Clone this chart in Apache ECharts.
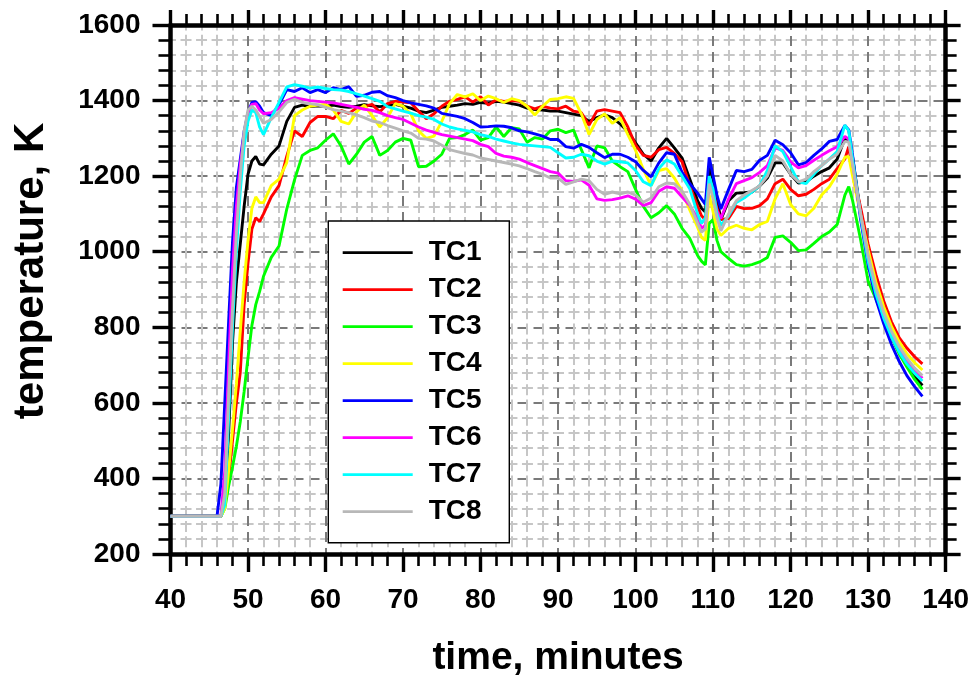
<!DOCTYPE html>
<html>
<head>
<meta charset="utf-8">
<script src="https://cdn.jsdelivr.net/npm/echarts@6/dist/echarts.min.js"></script>
<style>
html,body{margin:0;padding:0;background:#fff;}
#chart{width:972px;height:683px;}
</style>
</head>
<body>
<div id="chart"></div>
<script>
// time, minutes
const times = [40, 46, 46.5, 47, 47.5, 48, 48.5, 49, 49.5, 50, 50.5, 51, 51.5,
  52, 53, 54, 55, 56, 57, 58, 59, 60, 61,
  62, 63, 64, 65, 66, 67, 68, 69, 70, 71,
  72, 73, 74, 75, 76, 77, 78, 79, 80, 81,
  82, 83, 84, 85, 86, 87, 88, 89, 90, 91,
  92, 93, 94, 95, 96, 97, 98, 99, 100, 101,
  102, 103, 104, 105, 106, 107, 108,
  108.5, 109, 109.5, 110, 110.5, 111,
  112, 113, 114, 115, 116, 117, 118, 119, 120, 121,
  122, 123, 124, 125, 126, 127,
  127.5,
  128, 129, 130, 131, 132, 133, 134, 135, 136, 137];

const TC1 = [300, 300, 300, 340, 520, 760, 920, 1020, 1120, 1205, 1240, 1252, 1232,
  1230, 1258, 1280, 1345, 1382, 1388, 1384, 1386, 1385, 1388,
  1384, 1382, 1385, 1389, 1386, 1384, 1386, 1390, 1385, 1380,
  1372, 1368, 1375, 1382, 1385, 1388, 1392, 1390, 1395, 1393,
  1398, 1396, 1392, 1388, 1380, 1376, 1375, 1372, 1372, 1368,
  1364, 1360, 1345, 1355, 1362, 1355, 1338, 1318, 1288, 1258,
  1240, 1275, 1300, 1275, 1248, 1192, 1135,
  1115, 1105, 1225, 1190, 1140, 1085,
  1135, 1155, 1156, 1158, 1174, 1195, 1235, 1235, 1205, 1182,
  1185, 1200, 1212, 1222, 1245, 1300,
  1295,
  1250, 1105, 985, 893, 826, 775, 733, 700, 670, 646];

const TC2 = [300, 300, 300, 330, 400, 500, 600, 680, 860, 970, 1060, 1090, 1080,
  1100, 1145, 1175, 1253, 1320, 1305, 1342, 1358, 1358, 1352,
  1374, 1366, 1380, 1384, 1390, 1370, 1392, 1398, 1396, 1394,
  1372, 1352, 1365, 1385, 1398, 1403, 1410, 1396, 1410, 1388,
  1402, 1398, 1400, 1398, 1385, 1378, 1385, 1380, 1378, 1385,
  1372, 1368, 1335, 1372, 1376, 1372, 1368, 1330, 1282, 1255,
  1250, 1270, 1276, 1260, 1238, 1174, 1120,
  1095, 1085, 1185, 1160, 1115, 1085,
  1088, 1120, 1114, 1115, 1122, 1140, 1180, 1192, 1165, 1148,
  1152, 1165, 1180, 1192, 1220, 1245,
  1278,
  1210, 1120, 1020, 940, 870, 815, 773, 745, 722, 703];

const TC3 = [300, 300, 300, 320, 380, 430, 485, 550, 630, 720, 805, 860, 895,
  935, 985, 1015, 1113, 1190, 1255, 1268, 1275, 1295, 1312,
  1280, 1232, 1258, 1290, 1305, 1255, 1268, 1290, 1300, 1295,
  1225, 1226, 1240, 1258, 1300, 1302, 1310, 1322, 1295, 1302,
  1330, 1305, 1328, 1325, 1290, 1302, 1298, 1320, 1324, 1315,
  1322, 1270, 1222, 1280, 1275, 1240, 1225, 1212, 1165, 1120,
  1090, 1103, 1122, 1100, 1062, 1035, 990,
  975, 965, 1075, 1085, 1030, 1000,
  982, 966, 962, 966, 973, 985, 1038, 1042, 1025, 1003,
  1005, 1022, 1040, 1052, 1072, 1150,
  1172,
  1135, 1035, 922, 875, 825, 775, 730, 695, 662, 636];

const TC4 = [300, 300, 300, 320, 420, 530, 650, 790, 920, 1030, 1115, 1145, 1130,
  1130, 1175, 1192, 1236, 1360, 1375, 1385, 1388, 1390, 1375,
  1345, 1338, 1370, 1388, 1360, 1330, 1355, 1392, 1385, 1365,
  1320, 1300, 1306, 1345, 1392, 1416, 1410, 1418, 1400, 1412,
  1405, 1395, 1405, 1400, 1385, 1362, 1385, 1403, 1405, 1410,
  1406, 1365, 1310, 1350, 1365, 1340, 1355, 1310, 1268, 1218,
  1175, 1215, 1220, 1195, 1160, 1110, 1065,
  1038, 1030, 1150, 1105, 1060, 1043,
  1062, 1070, 1062, 1058, 1072, 1080, 1140, 1180, 1125, 1100,
  1095, 1115, 1150, 1172, 1205, 1250,
  1252,
  1200, 1100, 1005, 920, 855, 803, 762, 730, 706, 687];

const TC5 = [300, 300, 385, 600, 816, 1026, 1170, 1245, 1318, 1368, 1395, 1397, 1385,
  1368, 1360, 1389, 1429, 1424, 1434, 1421, 1429, 1421, 1434,
  1429, 1437, 1411, 1414, 1422, 1424, 1413, 1408, 1400, 1394,
  1390, 1386, 1380, 1366, 1362, 1358, 1352, 1342, 1330, 1331,
  1333, 1332, 1328, 1320, 1317, 1312, 1306, 1297, 1297, 1278,
  1274, 1284, 1276, 1262, 1249, 1258, 1258, 1250, 1238, 1215,
  1198, 1235, 1262, 1258, 1210, 1180, 1155,
  1140, 1125, 1250, 1200, 1150, 1113,
  1165, 1215, 1212, 1218, 1242, 1255, 1295, 1283, 1262, 1230,
  1236, 1255, 1272, 1292, 1297, 1334,
  1322,
  1255, 1090, 965, 875, 810, 755, 710, 672, 643, 617];

const TC6 = [300, 300, 300, 420, 700, 950, 1120, 1230, 1310, 1365, 1390, 1392, 1375,
  1365, 1368, 1380, 1400, 1408, 1404, 1400, 1398, 1396, 1394,
  1390, 1386, 1382, 1377, 1374, 1368, 1360, 1355, 1350, 1340,
  1330, 1322, 1316, 1310, 1306, 1302, 1298, 1294, 1284, 1278,
  1260, 1253, 1250, 1245, 1236, 1228, 1220, 1212, 1208, 1188,
  1186, 1190, 1176, 1140, 1136, 1138, 1142, 1148, 1139, 1122,
  1130, 1160, 1172, 1168, 1145, 1122, 1088,
  1062, 1070, 1190, 1150, 1108, 1088,
  1140, 1180, 1188, 1196, 1210, 1228, 1275, 1268, 1238, 1222,
  1228, 1242, 1255, 1267, 1278, 1305,
  1298,
  1235, 1100, 985, 898, 833, 782, 742, 710, 685, 665];

const TC7 = [300, 300, 300, 330, 560, 800, 1000, 1160, 1280, 1345, 1375, 1368, 1330,
  1310, 1355, 1395, 1436, 1442, 1438, 1433, 1436, 1432, 1429,
  1428, 1424, 1418, 1412, 1405, 1398, 1384, 1378, 1372, 1367,
  1360, 1356, 1350, 1338, 1330, 1325, 1321, 1317, 1310, 1305,
  1298, 1293, 1288, 1284, 1282, 1280, 1278, 1276, 1262, 1248,
  1250, 1258, 1254, 1240, 1232, 1240, 1238, 1235, 1215, 1185,
  1175, 1220, 1243, 1232, 1200, 1166, 1100,
  1075, 1090, 1200, 1165, 1100, 1070,
  1095, 1130, 1142, 1158, 1174, 1215, 1280, 1265, 1225, 1185,
  1180, 1205, 1228, 1245, 1265, 1335,
  1320,
  1245, 1100, 975, 888, 825, 775, 735, 703, 678, 658];

const TC8 = [300, 300, 300, 360, 620, 850, 1050, 1200, 1320, 1375, 1385, 1375, 1358,
  1340, 1350, 1370, 1395, 1403, 1395, 1392, 1389, 1382, 1376,
  1372, 1368, 1362, 1355, 1346, 1342, 1334, 1327, 1320, 1314,
  1300, 1298, 1293, 1282, 1270, 1265, 1260, 1256, 1248, 1244,
  1240, 1236, 1232, 1227, 1220, 1212, 1205, 1195, 1195, 1178,
  1185, 1192, 1188, 1165, 1152, 1158, 1153, 1158, 1150, 1131,
  1142, 1172, 1182, 1180, 1160, 1125, 1075,
  1052, 1060, 1180, 1140, 1090, 1055,
  1100, 1135, 1150, 1162, 1174, 1200, 1255, 1240, 1205, 1185,
  1192, 1212, 1228, 1245, 1258, 1292,
  1290,
  1230, 1105, 990, 905, 840, 790, 750, 718, 692, 672];

const seriesNames = ['TC1', 'TC2', 'TC3', 'TC4', 'TC5', 'TC6', 'TC7', 'TC8'];
const seriesValues = [TC1, TC2, TC3, TC4, TC5, TC6, TC7, TC8];
const seriesColors = ['#000000', '#ff0000', '#00ff00', '#ffff00', '#0000ff', '#ff00ff', '#00ffff', '#b8b8b8'];

const xTicks = [40, 50, 60, 70, 80, 90, 100, 110, 120, 130, 140];
const yTicks = [200, 400, 600, 800, 1000, 1200, 1400, 1600];
const xTitle = 'time, minutes';
const yTitle = 'temperature, K';

const FONT = 'Liberation Sans, Arial, Helvetica, sans-serif';

const chart = echarts.init(document.getElementById('chart'), null, {renderer: 'canvas'});

function axisBase(isMain, isX) {
  return {
    type: 'value',
    min: isX ? xTicks[0] : yTicks[0],
    max: isX ? xTicks[xTicks.length - 1] : yTicks[yTicks.length - 1],
    interval: isX ? (xTicks[1] - xTicks[0]) : (yTicks[1] - yTicks[0]),
    axisLine: {show: true, onZero: false, lineStyle: {color: '#000', width: 4.5}},
    axisTick: {show: true, inside: false, length: isMain ? 18 : 15, lineStyle: {color: '#000', width: 3.4}},
    minorTick: {show: true, splitNumber: 5, length: isMain ? 12 : 11, lineStyle: {color: '#000', width: 2.6}},
    axisLabel: {show: false},
    splitLine: {show: false},
    minorSplitLine: {show: false}
  };
}

const xMain = Object.assign(axisBase(true, true), {
  position: 'bottom',
  axisLabel: {show: true, fontSize: 28, fontWeight: 'bold', color: '#000', fontFamily: FONT, margin: 32,
    formatter: v => String(v)},
  splitLine: {show: true, lineStyle: {color: '#7a7a7a', width: 2, type: [10, 6], dashOffset: 5}},
  minorSplitLine: {show: true, lineStyle: {color: '#c6c6c6', width: 2, type: [11, 4.2], dashOffset: 5.5}},
  name: xTitle,
  nameLocation: 'middle',
  nameGap: 85,
  nameTextStyle: {fontSize: 39, fontWeight: 'bold', color: '#000', fontFamily: FONT}
});
const xTop = Object.assign(axisBase(false, true), {position: 'top'});

const yMain = Object.assign(axisBase(true, false), {
  position: 'left',
  axisLabel: {show: true, fontSize: 28, fontWeight: 'bold', color: '#000', fontFamily: FONT, margin: 30,
    formatter: v => String(v)},
  splitLine: {show: true, lineStyle: {color: '#7a7a7a', width: 2, type: [10, 6], dashOffset: 5}},
  minorSplitLine: {show: true, lineStyle: {color: '#c6c6c6', width: 2, type: [11, 4.52], dashOffset: 5.5}}
});
const yRight = Object.assign(axisBase(false, false), {position: 'right'});

const series = seriesNames.map((name, k) => ({
  name: name,
  type: 'line',
  xAxisIndex: 0,
  yAxisIndex: 0,
  symbol: 'none',
  showSymbol: false,
  silent: true,
  lineStyle: {color: seriesColors[k], width: 2.9},
  itemStyle: {color: seriesColors[k]},
  data: times.map((t, i) => [t, seriesValues[k][i]])
}));

chart.setOption({
  animation: false,
  backgroundColor: '#ffffff',
  grid: {left: 170.5, right: 25.3, top: 25, bottom: 126, containLabel: false},
  xAxis: [xMain, xTop],
  yAxis: [yMain, yRight],
  graphic: [{
    type: 'rect',
    z: 50,
    shape: {x: 328.3, y: 221, width: 181, height: 321.7},
    style: {fill: '#ffffff', stroke: '#000000', lineWidth: 1.4}
  }, {
    type: 'text',
    z: 50,
    x: 31,
    y: 271,
    rotation: Math.PI / 2,
    style: {
      text: yTitle,
      fill: '#000',
      fontSize: 42,
      fontWeight: 'bold',
      fontFamily: FONT,
      align: 'center',
      verticalAlign: 'middle',
      textAlign: 'center',
      textVerticalAlign: 'middle'
    }
  }],
  legend: {
    z: 60,
    orient: 'vertical',
    left: 342.7,
    top: 237.7,
    padding: 0,
    itemWidth: 70,
    itemHeight: 2.8,
    itemGap: 7,
    itemTextGap: 17,
    icon: 'rect',
    textStyle: {fontSize: 28, fontWeight: 'bold', color: '#000', fontFamily: FONT, lineHeight: 30,
      padding: [0, 0, 0, 11]},
    data: seriesNames
  },
  series: series
});
</script>
</body>
</html>
